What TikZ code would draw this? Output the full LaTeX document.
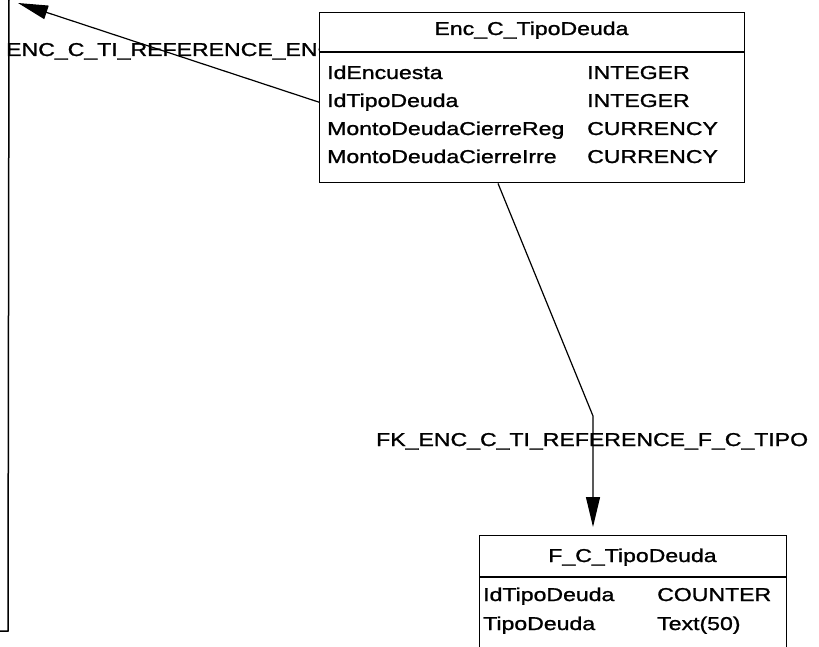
\documentclass[tikz,border=0pt]{standalone}
\usepackage{fontspec}
\setmainfont[FakeStretch=1.24, FakeBold=1.2]{Liberation Sans}
\usetikzlibrary{arrows.meta}

\begin{document}
\begin{tikzpicture}[x=1pt,y=-1pt,
  txt/.style={font=\fontsize{18.6}{20}\selectfont, inner sep=0pt, anchor=base west},
  ttl/.style={font=\fontsize{18.6}{20}\selectfont, inner sep=0pt, anchor=base},
  entity/.style={draw, line width=1.4pt, fill=white, inner sep=0pt, anchor=north west},
  sepline/.style={line width=1.4pt},
  frameline/.style={line width=1.5pt},
  link/.style={line width=1.2pt, -{Triangle[length=30pt,width=14pt]}},
]
\path[use as bounding box, clip] (0,0) rectangle (819,647);

% frame line on the left
\coordinate (ftop) at (9,0);
\coordinate (fbot) at (8,631);
\coordinate (fend) at (0,631);
\draw[frameline] (ftop) -- (fbot) -- (fend);

% left label (partly hidden by the table)
\begin{scope}
\clip (0,30) rectangle (319,70);
\node[txt] (lab1) at (6,56) {ENC\_C\_TI\_REFERENCE\_ENC};
\end{scope}

% label of the second reference
\node[txt] (lab2) at (376,446) {FK\_ENC\_C\_TI\_REFERENCE\_F\_C\_TIPO};

% table Enc_C_TipoDeuda
\node[entity, minimum width=425pt, minimum height=170pt] (enc) at (319,12) {};
\coordinate (ench) at (319,52);
\draw[sepline] (enc.west |- ench) -- (enc.east |- ench);
\node[ttl] (enct) at (531.5,35) {Enc\_C\_TipoDeuda};
\node[txt] (e1) at (327,79) {IdEncuesta};
\node[txt] (e1t) at (587,79) {INTEGER};
\node[txt] (e2) at (327,107) {IdTipoDeuda};
\node[txt] (e2t) at (587,107) {INTEGER};
\node[txt] (e3) at (327,135) {MontoDeudaCierreReg};
\node[txt] (e3t) at (587,135) {CURRENCY};
\node[txt] (e4) at (327,163) {MontoDeudaCierreIrre};
\node[txt] (e4t) at (587,163) {CURRENCY};

% table F_C_TipoDeuda
\node[entity, minimum width=307pt, minimum height=140pt] (fc) at (479,535) {};
\coordinate (fch) at (479,577);
\draw[sepline] (fc.west |- fch) -- (fc.east |- fch);
\node[ttl] (fct) at (632.5,562) {F\_C\_TipoDeuda};
\node[txt] (f1) at (483,601) {IdTipoDeuda};
\node[txt] (f1t) at (657,601) {COUNTER};
\node[txt] (f2) at (483,630) {TipoDeuda};
\node[txt] (f2t) at (657,630) {Text(50)};

% connectors
\coordinate (tip1) at (18,3);
\draw[link] (enc.west |- e2) -- (tip1);

\coordinate (k) at (593,416);
\draw[link, shorten >=8pt] ([xshift=179pt]enc.south west) -- (k) -- (k |- fc.north);
\end{tikzpicture}
\end{document}
